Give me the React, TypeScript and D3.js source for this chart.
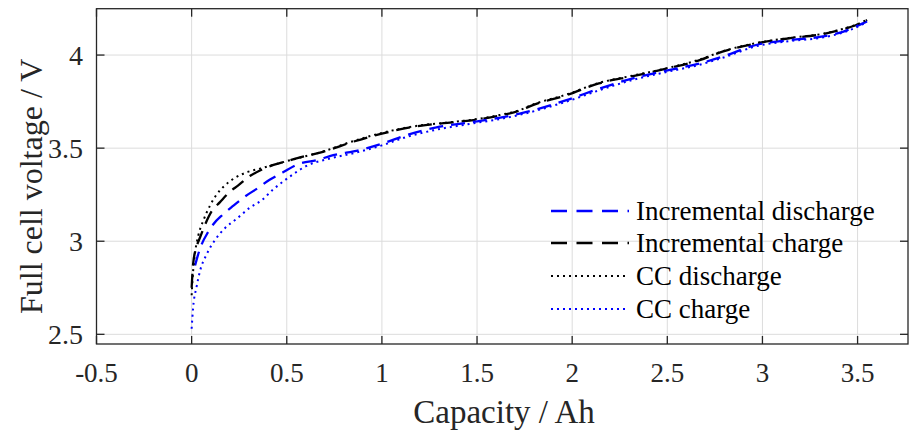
import React, { useEffect, useRef } from "react";
import * as d3 from "d3";

// ---- Data ----
const incChargeCap = [0, 0.008, 0.026, 0.044, 0.105, 0.149, 0.2, 0.245, 0.306, 0.359, 0.43, 0.5, 0.57, 0.69, 0.85, 1.0, 1.2, 1.37, 1.51, 1.62, 1.72, 1.79, 1.97, 2.14, 2.32, 2.5, 2.67, 2.79, 2.97, 3.14, 3.32, 3.42, 3.49, 3.55];
const incChargeV = [2.75, 2.88, 2.97, 3.02, 3.16, 3.21, 3.265, 3.3, 3.35, 3.38, 3.41, 3.43, 3.45, 3.48, 3.535, 3.578, 3.62, 3.638, 3.655, 3.675, 3.7, 3.73, 3.784, 3.848, 3.887, 3.928, 3.973, 4.018, 4.063, 4.09, 4.113, 4.138, 4.16, 4.188];

const ccDischargeCap = [0, 0.005, 0.017, 0.035, 0.061, 0.096, 0.131, 0.175, 0.227, 0.289, 0.359, 0.446, 0.534, 0.69, 0.85, 1.0, 1.2, 1.37, 1.51, 1.62, 1.72, 1.79, 1.97, 2.14, 2.32, 2.5, 2.67, 2.79, 2.97, 3.14, 3.32, 3.42, 3.49, 3.55];
const ccDischargeV = [2.71, 2.8, 2.93, 3.03, 3.11, 3.19, 3.25, 3.3, 3.34, 3.37, 3.39, 3.415, 3.44, 3.482, 3.538, 3.582, 3.622, 3.64, 3.658, 3.678, 3.703, 3.733, 3.788, 3.85, 3.89, 3.93, 3.976, 4.02, 4.065, 4.092, 4.115, 4.14, 4.162, 4.19];

const incDischargeCap = [0.018, 0.026, 0.044, 0.087, 0.113, 0.166, 0.218, 0.28, 0.34, 0.41, 0.48, 0.55, 0.674, 0.726, 0.884, 1.006, 1.129, 1.287, 1.46, 1.637, 1.724, 1.97, 2.144, 2.32, 2.495, 2.67, 2.79, 2.966, 3.142, 3.317, 3.422, 3.527, 3.55];
const incDischargeV = [2.87, 2.9, 2.96, 3.05, 3.09, 3.145, 3.19, 3.24, 3.28, 3.33, 3.37, 3.41, 3.44, 3.457, 3.49, 3.526, 3.57, 3.612, 3.638, 3.667, 3.685, 3.758, 3.82, 3.875, 3.916, 3.955, 3.991, 4.054, 4.08, 4.1, 4.125, 4.17, 4.18];

const ccChargeCap = [0, 0.008, 0.026, 0.044, 0.079, 0.122, 0.175, 0.236, 0.306, 0.368, 0.43, 0.48, 0.534, 0.604, 0.71, 0.88, 1.0, 1.13, 1.29, 1.46, 1.64, 1.97, 2.14, 2.32, 2.5, 2.67, 2.79, 2.97, 3.14, 3.32, 3.42, 3.53, 3.55];
const ccChargeV = [2.53, 2.645, 2.755, 2.84, 2.93, 3.005, 3.07, 3.12, 3.18, 3.22, 3.28, 3.32, 3.36, 3.405, 3.44, 3.48, 3.515, 3.56, 3.6, 3.63, 3.66, 3.75, 3.81, 3.867, 3.91, 3.948, 3.985, 4.048, 4.075, 4.095, 4.12, 4.168, 4.18];

const xTicks = [-0.5, 0, 0.5, 1, 1.5, 2, 2.5, 3, 3.5];
const yTicks = [2.5, 3, 3.5, 4];
const xTickLabels = ["-0.5", "0", "0.5", "1", "1.5", "2", "2.5", "3", "3.5"];
const yTickLabels = ["2.5", "3", "3.5", "4"];

const seriesNames = ["Incremental discharge", "Incremental charge", "CC discharge", "CC charge"];

const W = 909;
const H = 430;

export default function App() {
  const ref = useRef<SVGSVGElement | null>(null);

  useEffect(() => {
    document.body.style.margin = "0";
    const svg = d3.select(ref.current);
    svg.selectAll("*").remove();

    const left = 96.5, right = 908, top = 8.7, bottom = 344;
    const x = d3.scaleLinear().domain([-0.5, 3.765]).range([left, right]);
    const y = d3.scaleLinear().domain([2.448, 4.249]).range([bottom, top]);

    const font = "Liberation Serif, DejaVu Serif, serif";
    const axisColor = "#262626";

    svg.append("rect").attr("x", 0).attr("y", 0).attr("width", W).attr("height", H).attr("fill", "#fff");

    // grid
    const g = svg.append("g");
    g.selectAll(".gx").data(xTicks).enter().append("line")
      .attr("x1", d => x(d)).attr("x2", d => x(d)).attr("y1", top).attr("y2", bottom)
      .attr("stroke", "#dcdcdc").attr("stroke-width", 1);
    g.selectAll(".gy").data(yTicks).enter().append("line")
      .attr("x1", left).attr("x2", right).attr("y1", d => y(d)).attr("y2", d => y(d))
      .attr("stroke", "#dcdcdc").attr("stroke-width", 1);

    // series
    const series = [
      { cap: incDischargeCap, v: incDischargeV, color: "#0000ff", dash: "14,8", width: 2.3 },
      { cap: incChargeCap, v: incChargeV, color: "#000000", dash: "14,8", width: 2.3 },
      { cap: ccDischargeCap, v: ccDischargeV, color: "#000000", dash: "2,4", width: 2 },
      { cap: ccChargeCap, v: ccChargeV, color: "#0000ff", dash: "2,4", width: 2 },
    ];
    const line = d3.line<[number, number]>()
      .x(d => x(d[0])).y(d => y(d[1]))
      .curve(d3.curveMonotoneX);
    const drawOrder = [1, 0, 2, 3];
    drawOrder.forEach(i => {
      const s = series[i];
      const pts: [number, number][] = s.cap.map((c, j) => [c, s.v[j]]);
      svg.append("path").attr("d", line(pts) as string)
        .attr("fill", "none").attr("stroke", s.color)
        .attr("stroke-width", s.width).attr("stroke-dasharray", s.dash);
    });

    // box
    svg.append("rect").attr("x", left).attr("y", top).attr("width", right - left).attr("height", bottom - top)
      .attr("fill", "none").attr("stroke", axisColor).attr("stroke-width", 1.3);

    const tl = 8;
    xTicks.forEach(t => {
      svg.append("line").attr("x1", x(t)).attr("x2", x(t)).attr("y1", bottom).attr("y2", bottom - tl).attr("stroke", axisColor).attr("stroke-width", 1.3);
      svg.append("line").attr("x1", x(t)).attr("x2", x(t)).attr("y1", top).attr("y2", top + tl).attr("stroke", axisColor).attr("stroke-width", 1.3);
    });
    yTicks.forEach(t => {
      svg.append("line").attr("x1", left).attr("x2", left + tl).attr("y1", y(t)).attr("y2", y(t)).attr("stroke", axisColor).attr("stroke-width", 1.3);
      svg.append("line").attr("x1", right).attr("x2", right - tl).attr("y1", y(t)).attr("y2", y(t)).attr("stroke", axisColor).attr("stroke-width", 1.3);
    });

    const txt = (sel: any, size: number, color: string) =>
      sel.style("font-family", font).style("font-size", `${size}px`).attr("fill", color);

    // tick labels
    xTicks.forEach((t, i) => {
      txt(svg.append("text").attr("x", x(t)).attr("y", 382).attr("text-anchor", "middle"), 27, axisColor).text(xTickLabels[i]);
    });
    yTicks.forEach((t, i) => {
      txt(svg.append("text").attr("x", 83).attr("y", y(t)).attr("dy", "0.34em").attr("text-anchor", "end"), 28, axisColor).text(yTickLabels[i]);
    });

    // axis labels
    txt(svg.append("text").attr("x", 504).attr("y", 423).attr("text-anchor", "middle"), 33, axisColor).text("Capacity / Ah");
    txt(svg.append("text").attr("transform", `translate(42, ${(top + bottom) / 2 + 10}) rotate(-90)`).attr("text-anchor", "middle"), 32, axisColor).text("Full cell voltage / V");

    // legend
    const legY = [211, 243, 276, 309];
    series.forEach((s, i) => {
      svg.append("line").attr("x1", 551).attr("x2", 629).attr("y1", legY[i]).attr("y2", legY[i])
        .attr("stroke", s.color).attr("stroke-width", s.width).attr("stroke-dasharray", i < 2 ? "16,9.5" : s.dash);
      txt(svg.append("text").attr("x", 636).attr("y", legY[i]).attr("dy", "0.33em"), 27, "#000").text(seriesNames[i]);
    });
  }, []);

  return (
    <div style={{ position: "absolute", left: 0, top: 0 }}>
      <svg ref={ref} width={W} height={H} />
    </div>
  );
}
